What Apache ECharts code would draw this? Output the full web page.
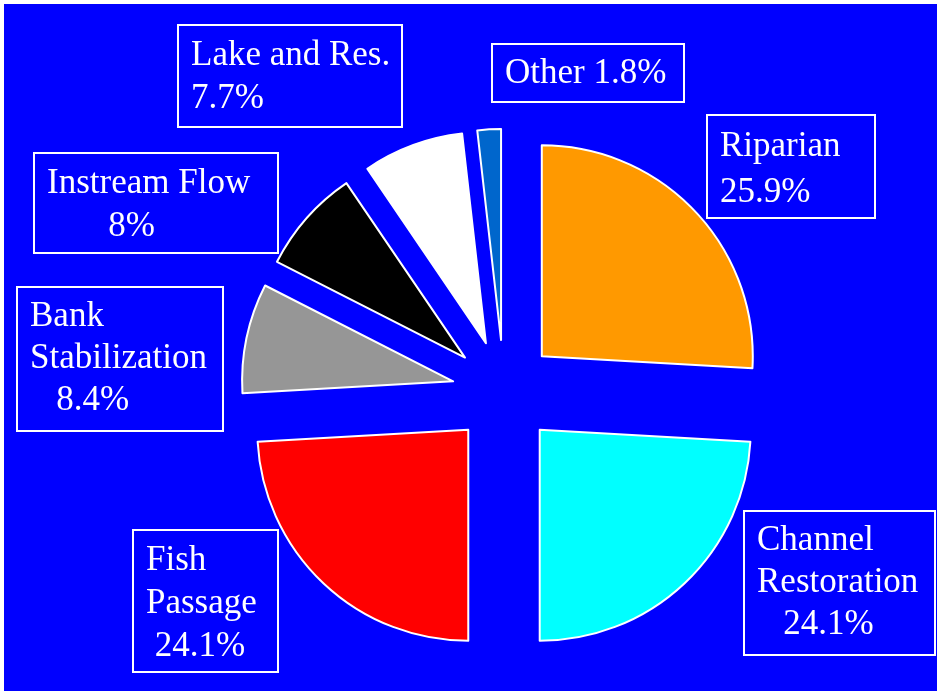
<!DOCTYPE html>
<html>
<head>
<meta charset="utf-8">
<script src="https://cdn.jsdelivr.net/npm/echarts@6/dist/echarts.min.js"></script>
<style>
  html, body { margin: 0; padding: 0; background: #fff; }
  #main { width: 937px; height: 691px; }
</style>
</head>
<body>
<div id="main"></div>
<script>
// slices, clockwise from 12 o'clock
const categories = ['Riparian', 'Channel\nRestoration', 'Fish\nPassage', 'Bank\nStabilization', 'Instream Flow', 'Lake and Res.', 'Other'];
const shares = [25.9, 24.1, 24.1, 8.4, 8, 7.7, 1.8];
const sliceColors = ['#FF9900', '#00FFFF', '#FF0000', '#969696', '#000000', '#FFFFFF', '#0066CC'];

// where each label box sits (top-left, size) and how the % line is joined
const labelBoxes = [
    { x: 708, y: 116, w: 166, h: 101, sep: '\n', lh: 46 },
    { x: 745, y: 512, w: 189, h: 142, sep: '\n   ', lh: 42 },
    { x: 134, y: 531, w: 143, h: 140, sep: '\n ', lh: 43 },
    { x: 18, y: 288, w: 204, h: 142, sep: '\n   ', lh: 42 },
    { x: 35, y: 154, w: 242, h: 98, sep: '\n       ', lh: 43 },
    { x: 179, y: 26, w: 222, h: 100, sep: '\n', lh: 43 },
    { x: 493, y: 45, w: 190, h: 56, sep: ' ', lh: 42 }
];

const chart = echarts.init(document.getElementById('main'));

// boxed labels, text built from the data arrays
const labelGraphics = categories.map((name, i) => {
    const b = labelBoxes[i];
    return {
        type: 'text',
        z: 100,
        silent: true,
        x: b.x,
        y: b.y,
        style: {
            text: name + b.sep + shares[i] + '%',
            fill: '#ffffff',
            fontFamily: '"Liberation Serif", "Times New Roman", serif',
            fontSize: 35,
            lineHeight: b.lh,
            align: 'left',
            verticalAlign: 'top',
            backgroundColor: '#0000FF',
            borderColor: '#ffffff',
            borderWidth: 2,
            padding: [8, 0, 0, 12],
            width: b.w - 12,
            height: b.h - 8
        }
    };
});

const option = {
    animation: false,
    backgroundColor: '#ffffff',
    graphic: [{
        type: 'rect',
        z: -10,
        silent: true,
        shape: { x: 4, y: 4, width: 933, height: 687 },
        style: { fill: '#0000FF' }
    }].concat(labelGraphics),
    series: [{
        type: 'pie',
        center: [504, 392],
        radius: 211,
        startAngle: 90,
        clockwise: true,
        selectedMode: 'multiple',
        selectedOffset: 52,
        itemStyle: {
            borderColor: '#ffffff',
            borderWidth: 2
        },
        label: { show: false },
        labelLine: { show: false },
        data: categories.map((name, i) => ({
            name: name,
            value: shares[i],
            selected: true,
            itemStyle: { color: sliceColors[i] }
        }))
    }]
};

chart.setOption(option);
</script>
</body>
</html>
